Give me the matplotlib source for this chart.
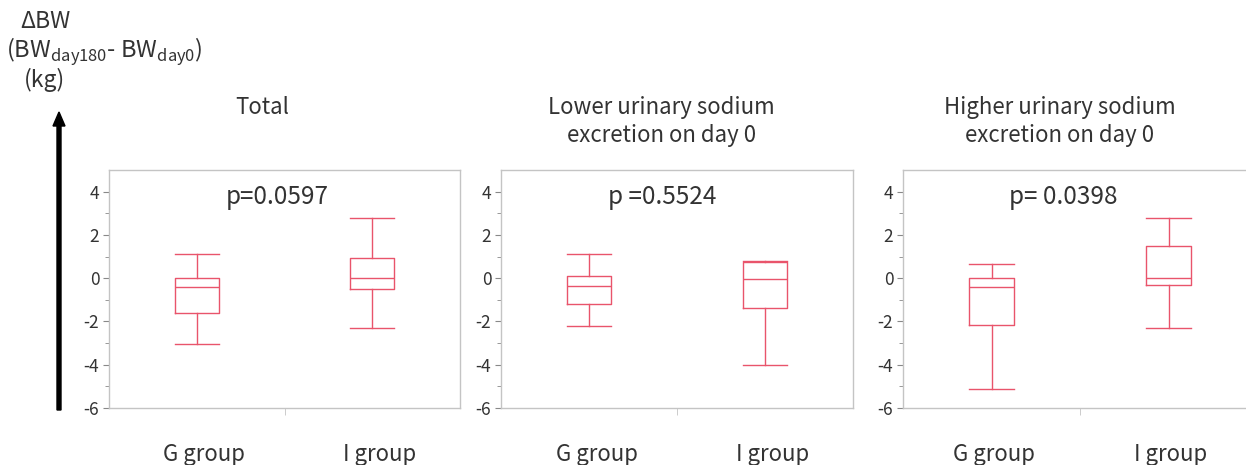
import matplotlib
matplotlib.use("Agg")
import matplotlib.pyplot as plt
from matplotlib.patches import FancyArrow
import matplotlib.transforms as mtrans

plt.rcParams['font.family'] = ['Noto Sans CJK JP', 'DejaVu Sans']
plt.rcParams['axes.unicode_minus'] = False
plt.rcParams['mathtext.fontset'] = 'custom'
plt.rcParams['mathtext.rm'] = 'Noto Sans CJK JP'

# ---- data ----
panel_titles = ["Total", "Lower urinary sodium\nexcretion on day 0",
                "Higher urinary sodium\nexcretion on day 0"]
p_texts = ["p=0.0597", "p =0.5524", "p= 0.0398"]
groups = ["G group", "I group"]
# [whisker low, Q1, median, Q3, whisker high]
total_G = [-3.05, -1.62, -0.42, 0.0, 1.1]
total_I = [-2.3, -0.48, 0.0, 0.95, 2.8]
lower_G = [-2.2, -1.2, -0.38, 0.12, 1.1]
lower_I = [-4.0, -1.38, -0.05, 0.74, 0.78]
higher_G = [-5.1, -2.18, -0.42, 0.0, 0.67]
higher_I = [-2.3, -0.32, 0.0, 1.5, 2.78]
yticks = [4, 2, 0, -2, -4, -6]

panels = [(total_G, total_I), (lower_G, lower_I), (higher_G, higher_I)]

W, H = 1246, 465
fig = plt.figure(figsize=(W / 100, H / 100), dpi=100)

box_color = '#e9546b'
spine_color = '#c4c4c4'
text_color = '#333333'

lefts = [109, 501, 903]
widths = [351, 352, 354]
ax_top, ax_bot = 170, 408
title_x = [0.436, 0.457, 0.443]
p_x = [0.479, 0.457, 0.452]
label_shift = [7, 8, 2]

for i, (gdat, idat) in enumerate(panels):
    ax = fig.add_axes([lefts[i] / W, (H - ax_bot) / H, widths[i] / W,
                       (ax_bot - ax_top) / H])
    stats = []
    for name, d in zip(groups, (gdat, idat)):
        stats.append(dict(label=name, whislo=d[0], q1=d[1], med=d[2],
                          q3=d[3], whishi=d[4], fliers=[]))
    lp = dict(color=box_color, linewidth=1.0)
    ax.bxp(stats, positions=[0, 1], widths=0.25, capwidths=0.25,
           showfliers=False, boxprops=lp, whiskerprops=lp, capprops=lp,
           medianprops=lp)
    ax.set_xlim(-0.5, 1.5)
    ax.set_ylim(-6, 5)
    ax.set_yticks(yticks)
    ax.set_yticklabels([str(t) for t in yticks])
    ax.set_yticks([3, 1, -1, -3, -5], minor=True)
    ax.set_xticks([0, 1])
    ax.set_xticklabels(groups)
    ax.set_xticks([0.5], minor=True)
    ax.tick_params(axis='x', which='major', length=0, pad=25,
                   labelsize=16, labelcolor=text_color)
    ax.tick_params(axis='x', which='minor', length=5, color=spine_color,
                   direction='out')
    ax.tick_params(axis='y', which='major', length=4, color='#888888',
                   labelsize=12.5, labelcolor=text_color, pad=3)
    ax.tick_params(axis='y', which='minor', length=3, color='#888888')
    off = mtrans.ScaledTranslation(label_shift[i] / 100, 0, fig.dpi_scale_trans)
    for lab in ax.get_xticklabels():
        lab.set_transform(lab.get_transform() + off)
    for s in ax.spines.values():
        s.set_color(spine_color)
        s.set_linewidth(1.0)
    if i == 2:
        ax.spines['right'].set_visible(False)
    ax.text(title_x[i], 1.31, panel_titles[i], transform=ax.transAxes,
            ha='center', va='top', fontsize=16, color=text_color,
            linespacing=1.25)
    ax.text(p_x[i], 0.887, p_texts[i], transform=ax.transAxes,
            ha='center', va='center', fontsize=17.5, color=text_color)

# y-axis label and arrow
fig.text(20 / W, 1 - 22 / H, "ΔBW", ha='left', va='center', fontsize=16.5,
         color=text_color)
fig.text(6 / W, 1 - 52 / H, r"(BW$_{\mathrm{day180}}$- BW$_{\mathrm{day0}}$)",
         ha='left', va='center', fontsize=17, color=text_color)
fig.text(24 / W, 1 - 80 / H, "(kg)", ha='left', va='center', fontsize=16.5,
         color=text_color)

x0 = 59 / W
y0 = (H - 410) / H
y1 = (H - 112) / H
arrow = FancyArrow(x0, y0, 0, y1 - y0, width=4 / W, head_width=12 / W,
                   head_length=14 / H, length_includes_head=True,
                   transform=fig.transFigure, color='black')
fig.add_artist(arrow)

fig.savefig("out.png", dpi=100)
